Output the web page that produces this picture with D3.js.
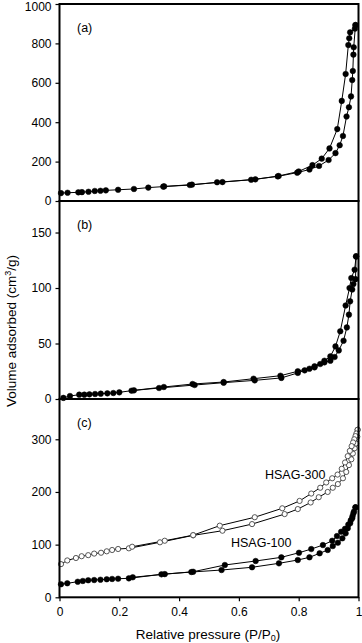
<!DOCTYPE html>
<html>
<head>
<meta charset="utf-8">
<script src="https://cdn.jsdelivr.net/npm/d3@7"></script>
<style>
  body { margin: 0; background: #fff; }
  svg text { font-family: "Liberation Sans", Arial, sans-serif; fill: #000; }
</style>
</head>
<body>
<script>
// isotherm data: [P/P0, volume cm3/g]
var aAds = [[0.005,40],[0.027,42],[0.063,44],[0.075,45],[0.097,47],[0.118,51],[0.137,52],[0.155,54],[0.196,57],[0.249,61],[0.297,68],[0.347,73],[0.436,81],[0.527,95],[0.641,108],[0.73,125],[0.795,144],[0.836,160],[0.868,178],[0.9,208],[0.923,243],[0.937,283],[0.948,330],[0.96,429],[0.968,476],[0.975,531],[0.979,614],[0.981,660],[0.983,743],[0.984,780],[0.99,893]];
var aDes = [[0.99,893],[0.988,875],[0.972,856],[0.969,826],[0.966,792],[0.957,645],[0.944,508],[0.929,365],[0.903,267],[0.877,215],[0.846,182],[0.8,150],[0.733,127],[0.655,110],[0.545,96],[0.443,83],[0.35,74]];

var bAds = [[0.013,1],[0.035,2.7],[0.066,3.9],[0.083,3.9],[0.1,4.2],[0.119,4.5],[0.138,4.8],[0.16,5.1],[0.18,5.4],[0.2,6],[0.241,7.5],[0.333,9.9],[0.452,12.6],[0.549,14.7],[0.653,16.8],[0.742,19],[0.797,23.5],[0.82,25.8],[0.836,27.3],[0.853,28.5],[0.872,31.5],[0.886,33],[0.906,34.5],[0.92,37.8],[0.934,43.8],[0.95,52.5],[0.961,64.5],[0.968,76],[0.972,88],[0.979,98.7],[0.983,103.6],[0.99,108],[0.992,128.5]];
var bDes = [[0.992,128.5],[0.987,116.5],[0.976,109],[0.97,100],[0.957,84.3],[0.939,61],[0.923,47.4],[0.906,38.4],[0.886,34.5],[0.853,29.5],[0.797,25],[0.739,21],[0.649,18.3],[0.549,15.3],[0.445,13.5],[0.349,10.8],[0.249,7.8]];

var c300Ads = [[0.005,63],[0.026,70],[0.055,74.6],[0.074,78],[0.096,80],[0.116,83],[0.139,84.6],[0.158,87.3],[0.176,89.8],[0.196,91.7],[0.232,93],[0.336,104.4],[0.447,117.6],[0.545,126.4],[0.644,139],[0.753,158],[0.797,167.5],[0.84,180],[0.867,190],[0.897,200],[0.914,208],[0.931,215],[0.948,226],[0.959,238],[0.968,251],[0.976,262],[0.981,273],[0.987,283],[0.992,292],[0.996,305],[0.997,318]];
var c300Des = [[0.997,318],[0.993,311],[0.99,306],[0.986,300],[0.982,294],[0.977,287],[0.971,278],[0.964,268],[0.955,256],[0.944,244],[0.93,233],[0.912,226],[0.892,218],[0.872,208],[0.842,197],[0.803,183],[0.745,169],[0.653,152],[0.536,136],[0.447,118],[0.352,107.4],[0.243,96]];

var c100Ads = [[0.005,24.7],[0.026,26.6],[0.061,29.6],[0.078,31],[0.096,32.3],[0.116,32.8],[0.137,33.4],[0.158,34.2],[0.176,34.8],[0.196,35.3],[0.232,36],[0.341,43.6],[0.441,48],[0.542,51.8],[0.644,57],[0.734,64.5],[0.797,70.8],[0.836,75.9],[0.87,83.5],[0.897,89.8],[0.914,97.3],[0.931,103.6],[0.946,112],[0.957,121.4],[0.964,131],[0.972,140.4],[0.979,150],[0.983,159.4],[0.99,170.8]];
var c100Des = [[0.99,170.8],[0.985,163],[0.98,154],[0.974,146],[0.966,138],[0.955,130],[0.942,124.5],[0.928,116.3],[0.912,107.4],[0.881,99.2],[0.842,91.6],[0.801,84.6],[0.742,75.9],[0.656,68.9],[0.553,61.3],[0.447,48.5],[0.352,44],[0.245,38]];

var xTicks = [0, 0.2, 0.4, 0.6, 0.8, 1];
var aTicks = [0, 200, 400, 600, 800, 1000];
var bTicks = [0, 50, 100, 150];
var cTicks = [0, 100, 200, 300];
var panelLabels = ["(a)", "(b)", "(c)"];

var W = 362, H = 643;
var left = 59.5, right = 358.5;

var svg = d3.select("body").append("svg")
  .attr("width", W)
  .attr("height", H);

var x = d3.scaleLinear().domain([0, 1]).range([left, right]);

var panels = [
  { top: 4,   bottom: 201,   max: 1000,  ticks: aTicks, series: [{d: aAds, open: false}, {d: aDes, open: false}] },
  { top: 201, bottom: 399,   max: 178.4, ticks: bTicks, series: [{d: bAds, open: false}, {d: bDes, open: false}] },
  { top: 399, bottom: 597.3, max: 376.5, ticks: cTicks, series: [{d: c300Ads, open: true}, {d: c300Des, open: true}, {d: c100Ads, open: false}, {d: c100Des, open: false}] }
];

panels.forEach(function(p, i) {
  var y = d3.scaleLinear().domain([0, p.max]).range([p.bottom, p.top]);
  var g = svg.append("g");

  var line = d3.line()
    .x(function(d) { return x(d[0]); })
    .y(function(d) { return y(d[1]); });

  // lines first, markers on top
  p.series.forEach(function(s) {
    g.append("path")
      .datum(s.d)
      .attr("d", line)
      .attr("fill", "none")
      .attr("stroke", "#000")
      .attr("stroke-width", 1);
  });
  p.series.forEach(function(s) {
    g.selectAll(null)
      .data(s.d)
      .enter()
      .append("circle")
      .attr("cx", function(d) { return x(d[0]); })
      .attr("cy", function(d) { return y(d[1]); })
      .attr("r", s.open ? 2.6 : 2.8)
      .attr("fill", s.open ? "#fff" : "#000")
      .attr("stroke", s.open ? "#444" : "#000")
      .attr("stroke-width", s.open ? 0.9 : 0.5);
  });

  // frame
  g.append("rect")
    .attr("x", left).attr("y", p.top)
    .attr("width", right - left).attr("height", p.bottom - p.top)
    .attr("fill", "none")
    .attr("stroke", "#000")
    .attr("stroke-width", 2);

  var yAxis = d3.axisLeft(y).tickValues(p.ticks).tickSize(4).tickPadding(4).tickFormat(d3.format("d"));
  var ya = g.append("g").attr("transform", "translate(" + left + ",0)").call(yAxis);
  ya.select(".domain").remove();
  ya.selectAll("line").attr("stroke-width", 1.2);
  ya.selectAll("text").attr("font-size", 12).attr("font-family", "Liberation Sans, Arial, sans-serif");
  // keep the topmost label inside the picture
  if (i === 0) ya.selectAll("text").filter(function(d) { return d === 1000; }).attr("dy", "0.5em");

  g.append("text")
    .attr("x", 77).attr("y", p.top + 28)
    .attr("font-size", 12.5)
    .text(panelLabels[i]);

  if (i === 2) {
    var xAxis = d3.axisBottom(x).tickValues(xTicks).tickSize(4).tickPadding(6).tickFormat(d3.format("~g"));
    var xa = g.append("g").attr("transform", "translate(0," + p.bottom + ")").call(xAxis);
    xa.select(".domain").remove();
    xa.selectAll("line").attr("stroke-width", 1.2);
    xa.selectAll("text").attr("font-size", 12).attr("font-family", "Liberation Sans, Arial, sans-serif");

    g.append("text").attr("x", 265).attr("y", y(224)).attr("font-size", 12.5).text("HSAG-300");
    g.append("text").attr("x", 231).attr("y", y(96)).attr("font-size", 12.5).text("HSAG-100");
  }
});

// axis titles
var xl = svg.append("text")
  .attr("x", 208).attr("y", 639)
  .attr("text-anchor", "middle")
  .attr("font-size", 13.5);
xl.append("tspan").text("Relative pressure (P/P");
xl.append("tspan").attr("font-size", 9).attr("dy", 2).text("0");
xl.append("tspan").attr("dy", -2).text(")");

var yl = svg.append("text")
  .attr("transform", "translate(16,331) rotate(-90)")
  .attr("text-anchor", "middle")
  .attr("font-size", 13.5);
yl.append("tspan").text("Volume adsorbed (cm");
yl.append("tspan").attr("font-size", 9).attr("dy", -5).text("3");
yl.append("tspan").attr("dy", 5).text("/g)");
</script>
</body>
</html>
